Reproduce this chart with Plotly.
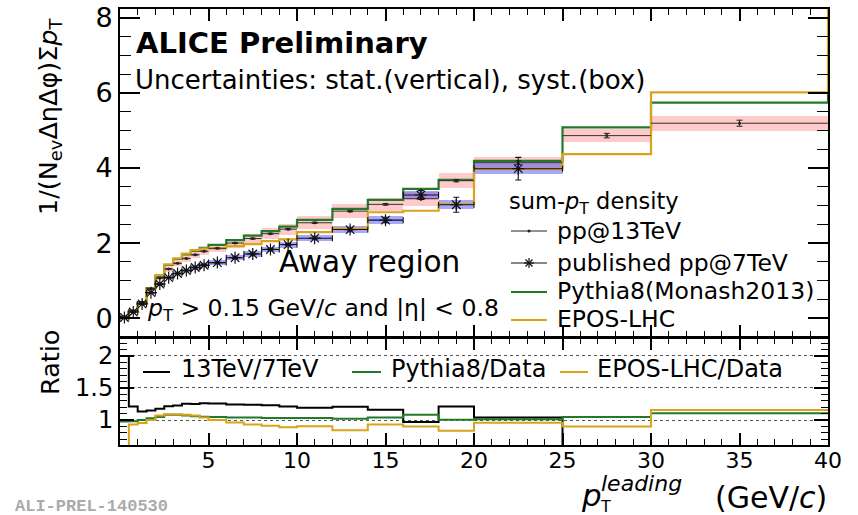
import plotly.graph_objects as go

# ---------------- data ----------------
edges = [0, 0.5, 1, 1.5, 2, 2.5, 3, 3.5, 4, 4.5, 5, 6, 7, 8, 9, 10, 12, 14, 16, 18, 20, 25, 30, 40]

pp13 = [0.04, 0.20, 0.43, 0.78, 1.07, 1.31, 1.46, 1.59, 1.69, 1.78, 1.86, 2.00, 2.12, 2.25,
        2.37, 2.54, 2.85, 3.03, 3.18, 3.66, 4.14, 4.86, 5.19]
pp13_stat = [0.003, 0.004, 0.005, 0.006, 0.007, 0.008, 0.008, 0.009, 0.01, 0.01, 0.01, 0.012, 0.013,
             0.014, 0.015, 0.016, 0.018, 0.02, 0.022, 0.03, 0.05, 0.06, 0.08]
pp13_syst = [0.01, 0.02, 0.03, 0.05, 0.06, 0.07, 0.08, 0.09, 0.09, 0.10, 0.11, 0.12, 0.13, 0.14,
             0.15, 0.17, 0.18, 0.17, 0.19, 0.20, 0.15, 0.18, 0.20]

pp7 = [0.02, 0.165, 0.38, 0.68, 0.91, 1.08, 1.19, 1.27, 1.35, 1.41, 1.48, 1.61, 1.71, 1.83,
       1.96, 2.13, 2.36, 2.61, 3.28, 3.02, 3.98]
pp7_stat = [0.003, 0.005, 0.006, 0.008, 0.01, 0.01, 0.012, 0.013, 0.014, 0.015, 0.016, 0.018, 0.02,
            0.022, 0.025, 0.03, 0.04, 0.06, 0.12, 0.20, 0.30]
pp7_syst = [0.005, 0.01, 0.02, 0.03, 0.04, 0.045, 0.05, 0.05, 0.055, 0.06, 0.06, 0.065, 0.07,
            0.075, 0.08, 0.085, 0.09, 0.10, 0.11, 0.12, 0.15]

pythia = [0.039, 0.196, 0.43, 0.80, 1.12, 1.42, 1.58, 1.70, 1.79, 1.87, 1.95, 2.08, 2.20, 2.32,
          2.44, 2.62, 2.91, 3.15, 3.44, 3.68, 4.19, 5.08, 5.74]
pythia_overflow = 5.95
epos = [0.02, 0.186, 0.41, 0.78, 1.145, 1.43, 1.59, 1.72, 1.81, 1.85, 1.86, 1.92, 1.97, 2.05,
        2.10, 2.29, 2.39, 2.82, 2.86, 3.04, 3.97, 4.37, 6.01]
epos_overflow = 9.0
overflow_edge = 50

x_ticks = [5, 10, 15, 20, 25, 30, 35, 40]
ratio_ticks = [1, 1.5, 2]
ratio_ticklabels = ["1", "1.5", "2"]

# ---------------- derived ----------------
centers = [(edges[i] + edges[i + 1]) / 2 for i in range(len(edges) - 1)]
halfw = [(edges[i + 1] - edges[i]) / 2 for i in range(len(edges) - 1)]
n7 = len(pp7)

r137 = [pp13[i] / pp7[i] if i < n7 else 0.0 for i in range(len(pp13))]
r_py = [pythia[i] / pp13[i] for i in range(len(pp13))]
r_ep = [epos[i] / pp13[i] for i in range(len(pp13))]

GREEN = "#23792a"
GOLD = "#d9a31c"
FONT = "DejaVu Sans"

W, H = 858, 515
ML, MR, MT, MB = 120, 30, 9, 70
PW = W - ML - MR
PH = H - MT - MB


def px(x):
    return (x - ML) / PW


def py(y):
    return (H - MB - y) / PH


fig = go.Figure()

# ---- top panel ----
fig.add_trace(go.Bar(x=centers, y=[2 * s for s in pp13_syst],
                     base=[v - s for v, s in zip(pp13, pp13_syst)],
                     width=[2 * h for h in halfw],
                     marker=dict(color="rgba(255,90,90,0.32)", line=dict(width=0)),
                     xaxis="x2", yaxis="y2", showlegend=False))
fig.add_trace(go.Bar(x=centers[:n7], y=[2 * s for s in pp7_syst],
                     base=[v - s for v, s in zip(pp7, pp7_syst)],
                     width=[2 * h for h in halfw[:n7]],
                     marker=dict(color="rgba(60,60,255,0.45)", line=dict(width=0)),
                     xaxis="x2", yaxis="y2", showlegend=False))

fig.add_trace(go.Scatter(x=edges + [overflow_edge], y=pythia + [pythia_overflow, pythia_overflow],
                         mode="lines", line=dict(shape="hv", color=GREEN, width=2.2),
                         xaxis="x2", yaxis="y2", showlegend=False))
fig.add_trace(go.Scatter(x=edges + [overflow_edge], y=epos + [epos_overflow, epos_overflow],
                         mode="lines", line=dict(shape="hv", color=GOLD, width=2.2),
                         xaxis="x2", yaxis="y2", showlegend=False))

fig.add_trace(go.Scatter(x=centers, y=pp13, mode="markers",
                         marker=dict(symbol="circle", size=3, color="#222"),
                         error_x=dict(type="data", array=halfw, width=0, thickness=1, color="#333"),
                         error_y=dict(type="data", array=pp13_stat, width=3, thickness=1, color="#222"),
                         xaxis="x2", yaxis="y2", showlegend=False))
fig.add_trace(go.Scatter(x=centers[:n7], y=pp7, mode="markers",
                         marker=dict(symbol="asterisk-open", size=10, color="#111",
                                     line=dict(width=1.2, color="#111")),
                         error_x=dict(type="data", array=halfw[:n7], width=3, thickness=1.1, color="#111"),
                         error_y=dict(type="data", array=pp7_stat, width=3, thickness=1.1, color="#111"),
                         xaxis="x2", yaxis="y2", showlegend=False))

# ---- ratio panel ----
fig.add_trace(go.Scatter(x=edges, y=r137 + [r137[-1]], mode="lines",
                         line=dict(shape="hv", color="black", width=2), showlegend=False))
fig.add_trace(go.Scatter(x=edges, y=r_py + [r_py[-1]], mode="lines",
                         line=dict(shape="hv", color=GREEN, width=2), showlegend=False))
fig.add_trace(go.Scatter(x=edges, y=r_ep + [r_ep[-1]], mode="lines",
                         line=dict(shape="hv", color=GOLD, width=2), showlegend=False))

fig.update_layout(
    width=W, height=H,
    margin=dict(l=ML, r=MR, t=MT, b=MB, autoexpand=False),
    paper_bgcolor="white", plot_bgcolor="white",
    barmode="overlay", bargap=0, hovermode=False,
    font=dict(family=FONT, color="black"),
    xaxis=dict(range=[0, 40], domain=[0, 1], anchor="y",
               tickmode="array", tickvals=x_ticks,
               tickfont=dict(size=22, family=FONT)),
    yaxis=dict(range=[0.61, 2.28], domain=[0, py(338)], anchor="x",
               tickmode="array", tickvals=ratio_ticks, ticktext=ratio_ticklabels,
               tickfont=dict(size=24, family=FONT),
               showgrid=True, gridcolor="#555", griddash="dot", gridwidth=1),
    xaxis2=dict(range=[0, 40], matches="x", anchor="y2",
                tickmode="array", tickvals=x_ticks, showticklabels=False),
    yaxis2=dict(range=[-0.5, 8.23], domain=[py(337), 1], anchor="x2",
                tickmode="linear", tick0=0, dtick=2,
                tickfont=dict(size=27, family=FONT)),
)
try:
    fig.update_layout(xaxis=dict(ticklabelstandoff=-5))
except Exception:
    fig.update_layout(xaxis=dict(ticklabelstandoff=0))

fig.update_xaxes(showline=True, linecolor="black", linewidth=2, mirror="allticks",
                 ticks="inside", tickcolor="black", tickwidth=1.5, ticklen=12,
                 zeroline=False, showgrid=False,
                 minor=dict(ticks="inside", dtick=1, tick0=0, ticklen=6, tickcolor="black",
                            tickwidth=1, showgrid=False))
fig.update_yaxes(showline=True, linecolor="black", linewidth=2, mirror="allticks",
                 ticks="inside", tickcolor="black", tickwidth=1.5, zeroline=False)
fig.update_layout(
    yaxis=dict(ticklen=14, minor=dict(ticks="inside", dtick=0.1, tick0=0, ticklen=7,
                                      tickcolor="black", tickwidth=1, showgrid=False)),
    yaxis2=dict(ticklen=20, showgrid=False,
                minor=dict(ticks="inside", dtick=0.5, tick0=0, ticklen=11,
                           tickcolor="black", tickwidth=1, showgrid=False)),
)


def txt(s, x, y, size, xa="left", ya="middle", color="black", family=FONT, angle=0):
    return dict(text=s, x=px(x), y=py(y), xref="paper", yref="paper", xanchor=xa, yanchor=ya,
                showarrow=False, textangle=angle, font=dict(size=size, color=color, family=family))


ann = [
    txt("<b>ALICE Preliminary</b>", 134, 43, 29),
    txt("Uncertainties: stat.(vertical), syst.(box)", 133, 80, 26),
    txt("Away region", 277, 262, 29.5),
    txt("<i>p</i><sub>T</sub> &gt; 0.15 GeV/<i>c</i> and |η| &lt; 0.8", 145, 309, 23.5),
    txt("sum-<i>p</i><sub>T</sub> density", 507, 203, 22.5),
    txt("pp@13TeV", 555, 231, 23.5),
    txt("published pp@7TeV", 555, 263, 23.5),
    txt("Pythia8(Monash2013)", 555, 291, 23.5),
    txt("EPOS-LHC", 555, 319, 23.5),
    txt("13TeV/7TeV", 179, 369, 24),
    txt("Pythia8/Data", 389, 369, 24),
    txt("EPOS-LHC/Data", 595, 369, 24),
    txt("1/(N<sub>ev</sub>ΔηΔφ)Σ<i>p</i><sub>T</sub>", 50, 117, 25.5, xa="center", angle=-90),
    txt("Ratio", 50, 363, 25.5, xa="center", angle=-90),
    txt("(GeV/<i>c</i>)", 829, 497, 30, xa="right"),
    txt("<i>p</i>", 591, 495, 31, xa="center"),
    txt("<i>leading</i>", 599, 483, 22),
    txt("T", 605, 507, 16, xa="center"),
    txt("<b>ALI-PREL-140530</b>", 13, 507, 17, color="#ababab", family="Liberation Mono"),
]


def seg(x0, y0, x1, y1, color="black", width=1.0):
    return dict(type="line", xref="paper", yref="paper", x0=px(x0), y0=py(y0), x1=px(x1), y1=py(y1),
                line=dict(color=color, width=width))


shapes = [
    seg(511, 231, 547, 231, "#222", 1),
    dict(type="circle", xref="paper", yref="paper", x0=px(527.5), x1=px(530.5), y0=py(229.5),
         y1=py(232.5), fillcolor="#222", line=dict(width=0)),
    seg(511, 263, 547, 263, "#111", 1),
    seg(529, 258, 529, 268, "#111", 1.2),
    seg(524, 263, 534, 263, "#111", 1.2),
    seg(525.5, 259.5, 532.5, 266.5, "#111", 1.2),
    seg(525.5, 266.5, 532.5, 259.5, "#111", 1.2),
    seg(511, 292, 547, 292, GREEN, 2),
    seg(511, 320, 547, 320, GOLD, 2),
    seg(143, 372, 170, 372, "black", 2),
    seg(352, 372, 381, 372, GREEN, 2),
    seg(560, 372, 588, 372, GOLD, 2),
]

fig.update_layout(annotations=ann, shapes=shapes)

fig.write_html("out.html", config={"displayModeBar": False},
               post_script="document.body.style.margin='0px';document.body.style.padding='0px';")
